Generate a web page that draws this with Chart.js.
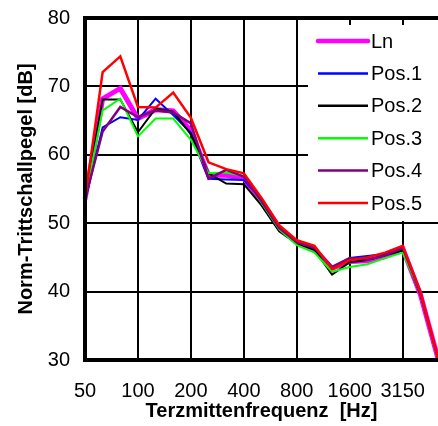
<!DOCTYPE html>
<html>
<head>
<meta charset="utf-8">
<script src="https://cdn.jsdelivr.net/npm/chart.js@4"></script>
<style>
  html, body { margin: 0; padding: 0; background: #fff; }
  #wrap { width: 438px; height: 426px; }
</style>
</head>
<body>
<div id="wrap"><canvas id="chart" width="438" height="426"></canvas></div>
<script>
const BANDS = ['50', '63', '80', '100', '125', '160', '200', '250', '315', '400', '500',
               '630', '800', '1000', '1250', '1600', '2000', '2500', '3150', '4000', '5000'];

const LN    = [53.5, 68.2, 69.7, 65.3, 66.6, 66.4, 63.5, 57.0, 57.0, 56.5, 53.2, 49.3, 47.2, 46.2, 43.4, 44.4, 44.5, 45.1, 46.3, 39.6, 30.2];
const POS_1 = [53.2, 64.0, 65.5, 65.1, 68.2, 65.8, 63.2, 56.5, 56.4, 56.3, 53.5, 49.3, 47.2, 46.3, 43.4, 44.9, 45.2, 45.5, 46.4, 39.8, 30.3];
const POS_2 = [53.5, 68.1, 68.1, 63.3, 66.8, 66.3, 63.0, 57.3, 55.8, 55.7, 52.6, 48.8, 47.0, 46.1, 42.5, 44.3, 44.6, 45.3, 46.0, 39.6, 30.2];
const POS_3 = [53.5, 66.5, 68.2, 62.7, 65.3, 65.3, 62.2, 57.3, 57.4, 56.9, 53.0, 49.1, 46.8, 45.7, 42.9, 43.6, 44.0, 44.9, 45.7, 39.8, 30.0];
const POS_4 = [53.5, 63.4, 67.0, 65.5, 66.5, 66.2, 64.6, 56.5, 57.8, 56.8, 53.2, 49.3, 47.2, 46.4, 43.6, 44.9, 44.7, 45.3, 46.4, 39.9, 30.2];
const POS_5 = [53.5, 72.1, 74.4, 67.0, 66.9, 69.1, 65.4, 58.9, 57.9, 57.3, 53.7, 49.7, 47.5, 46.7, 43.3, 44.6, 45.0, 45.7, 46.7, 40.0, 30.3];

const LABELS = ['Ln', 'Pos.1', 'Pos.2', 'Pos.3', 'Pos.4', 'Pos.5'];
const VALUES = [LN, POS_1, POS_2, POS_3, POS_4, POS_5];
const COLORS = ['#ff00ff', '#0000ff', '#000000', '#00ff00', '#800080', '#ff0000'];
const WIDTHS = [5, 2, 2, 2, 2.5, 2.5];

const FONT = '"Liberation Sans", Arial, sans-serif';

// frame (top/left/bottom) plus the white legend box inside the plot
const frameAndLegend = {
  id: 'frameAndLegend',
  afterDatasetsDraw(chart) {
    const { ctx, chartArea: a } = chart;
    ctx.save();

    const bx = a.right - 130, by = a.top + 7;
    ctx.fillStyle = '#fff';
    ctx.fillRect(bx, by, 140, 196);

    ctx.font = '20px ' + FONT;
    ctx.textBaseline = 'middle';
    LABELS.forEach((label, i) => {
      const y = by + 16 + i * 32.4;
      ctx.strokeStyle = COLORS[i];
      ctx.lineWidth = i === 0 ? 4.5 : 2.5;
      ctx.lineCap = i === 0 ? 'round' : 'butt';
      ctx.beginPath();
      ctx.moveTo(bx + 10, y);
      ctx.lineTo(bx + 60, y);
      ctx.stroke();
      ctx.fillStyle = '#000';
      ctx.fillText(label, bx + 63, y + 1);
    });

    ctx.strokeStyle = '#000';
    ctx.lineWidth = 4;
    ctx.lineCap = 'butt';
    ctx.beginPath();
    ctx.moveTo(a.right + 4, a.top);
    ctx.lineTo(a.left, a.top);
    ctx.lineTo(a.left, a.bottom);
    ctx.lineTo(a.right + 4, a.bottom);
    ctx.stroke();
    ctx.restore();
  }
};

const datasets = VALUES.map((v, i) => ({
  label:           LABELS[i],
  data:            v,
  borderColor:     COLORS[i],
  backgroundColor: COLORS[i],
  borderWidth:     WIDTHS[i],
  pointRadius:     0,
  tension:         0,
  fill:            false,
  order:           LABELS.length - i
}));

new Chart(document.getElementById('chart').getContext('2d'), {
  type: 'line',
  data: { labels: BANDS, datasets },
  options: {
    responsive: false,
    animation: false,
    layout: { padding: { top: 18, right: 0, bottom: 0, left: 0 } },
    plugins: {
      legend:  { display: false },
      tooltip: { enabled: false }
    },
    scales: {
      x: {
        afterFit: s => { s.height = 66; s.paddingLeft = 0; s.paddingRight = 0; },
        border: { display: false },
        grid: {
          drawTicks: false,
          lineWidth: 2,
          color: c => (c.index % 3 === 0 ? '#000' : 'rgba(0,0,0,0)')
        },
        ticks: {
          autoSkip: false,
          maxRotation: 0,
          padding: 19,
          color: '#000',
          font: { family: FONT, size: 20 },
          callback: (v, i) => (i % 3 === 0 ? BANDS[i] : '')
        },
        title: {
          display: true,
          text: 'Terzmittenfrequenz  [Hz]',
          color: '#000',
          font: { family: FONT, size: 20, weight: 'bold' },
          padding: { top: 0, bottom: 3 }
        }
      },
      y: {
        min: 30,
        max: 80,
        afterFit: s => { s.width = 85; s.paddingTop = 0; s.paddingBottom = 0; },
        border: { display: false },
        grid: { drawTicks: false, lineWidth: 2, color: '#000' },
        ticks: {
          stepSize: 10,
          padding: 15,
          color: '#000',
          font: { family: FONT, size: 20 }
        },
        title: {
          display: true,
          text: 'Norm-Trittschallpegel [dB]',
          color: '#000',
          font: { family: FONT, size: 20, weight: 'bold' },
          padding: { top: 14, bottom: 0 }
        }
      }
    }
  },
  plugins: [frameAndLegend]
});
</script>
</body>
</html>
